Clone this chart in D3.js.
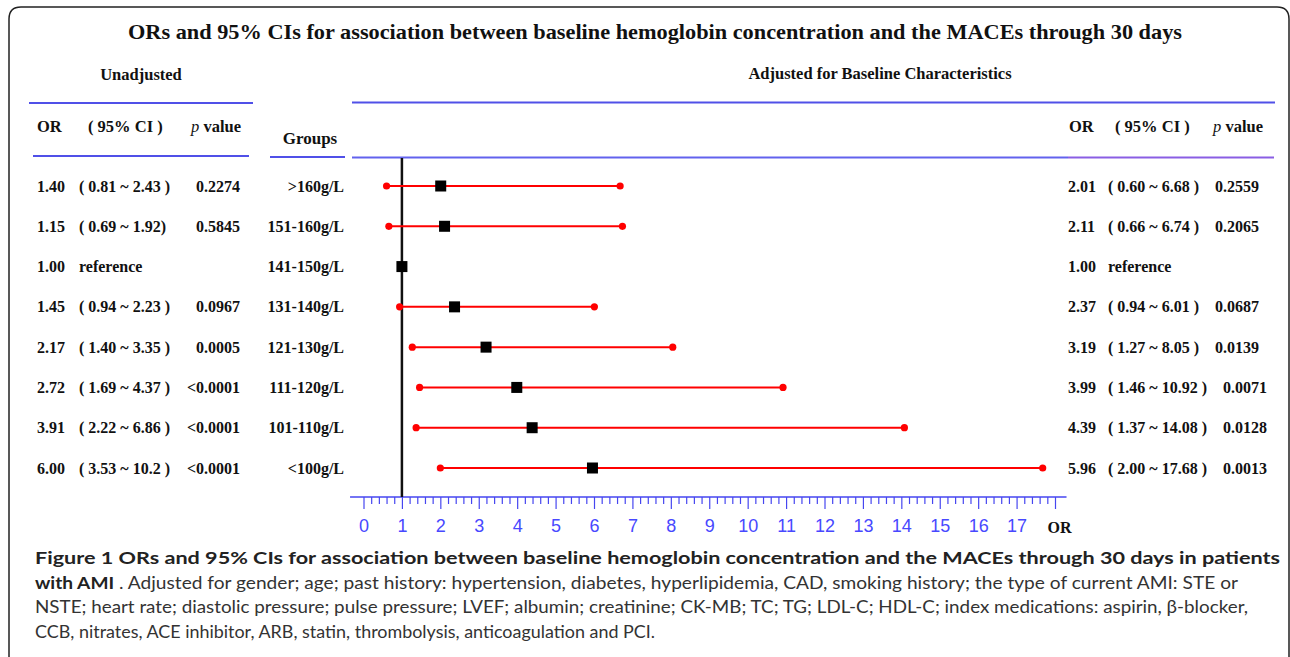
<!DOCTYPE html>
<html><head><meta charset="utf-8">
<script src="https://cdn.jsdelivr.net/npm/d3@7"></script>
<style>html,body{margin:0;padding:0;background:#fff;}svg{display:block;}</style>
</head><body>
<svg id="chart" width="1290" height="657"></svg>
<script>
// ---- data ----
const groups = [">160g/L","151-160g/L","141-150g/L","131-140g/L","121-130g/L","111-120g/L","101-110g/L","<100g/L"];
const adjOR = [2.01,2.11,1.00,2.37,3.19,3.99,4.39,5.96];
const adjLo = [0.60,0.66,null,0.94,1.27,1.46,1.37,2.00];
const adjHi = [6.68,6.74,null,6.01,8.05,10.92,14.08,17.68];
const adjP  = ["0.2559","0.2065","","0.0687","0.0139","0.0071","0.0128","0.0013"];
const unOR  = ["1.40","1.15","1.00","1.45","2.17","2.72","3.91","6.00"];
const unCI  = ["( 0.81 ~ 2.43 )","( 0.69 ~ 1.92)","reference","( 0.94 ~ 2.23 )","( 1.40 ~ 3.35 )","( 1.69 ~ 4.37 )","( 2.22 ~ 6.86 )","( 3.53 ~ 10.2 )"];
const unP   = ["0.2274","0.5845","","0.0967","0.0005","<0.0001","<0.0001","<0.0001"];
const majorTicks = d3.range(0,19,1);
const minorTicks = d3.range(0,90,1).map(i=>i/5).filter(v=>Math.abs(v-Math.round(v))>1e-9);
const titleText = "ORs and 95% CIs for association between baseline hemoglobin concentration and the MACEs through 30 days";

const svg = d3.select("#chart");
const serif = "'Liberation Serif','Times New Roman',serif";
const fmt = d3.format(".2f");

// frame
svg.append("path")
  .attr("d","M9,657 L9,19 Q9,7 21,7 L1277,7 Q1289,7 1289,19 L1289,657")
  .attr("fill","none").attr("stroke","#222").attr("stroke-width",1.5);

// scales
const x = d3.scaleLinear().domain([0,18]).range([363.5,1055]);
const y = d3.scalePoint().domain(groups).range([186,468]);

// title
svg.append("text").attr("x",128).attr("y",39)
  .attr("font-family",serif).attr("font-weight","bold").attr("font-size",21).attr("fill","#111")
  .attr("textLength",1054).attr("lengthAdjust","spacingAndGlyphs")
  .text(titleText);
svg.append("text").attr("x",141).attr("y",80).attr("text-anchor","middle")
  .attr("font-family",serif).attr("font-weight","bold").attr("font-size",16.5).attr("fill","#111").text("Unadjusted");
svg.append("text").attr("x",880).attr("y",79).attr("text-anchor","middle")
  .attr("font-family",serif).attr("font-weight","bold").attr("font-size",16.5).attr("fill","#111").text("Adjusted for Baseline Characteristics");

// header rules
const rules = [
  {x1:29,x2:253,y:103,c:"#5050e8"},{x1:352,x2:1275,y:102.5,c:"#5050e8"},
  {x1:33,x2:249,y:156,c:"#5050e8"},{x1:270,x2:345,y:157,c:"#5050e8"},
  {x1:352,x2:1068,y:157.5,c:"#6262ee"},{x1:1068,x2:1274,y:157.5,c:"#8a5ee4"}
];
svg.selectAll("line.rule").data(rules).join("line").attr("class","rule")
  .attr("x1",d=>d.x1).attr("x2",d=>d.x2).attr("y1",d=>d.y).attr("y2",d=>d.y)
  .attr("stroke",d=>d.c).attr("stroke-width",2);

// column headers
function header(xOR,xCI,xP,yb){
  const g = svg.append("g").attr("font-family",serif).attr("font-weight","bold").attr("font-size",16.5).attr("fill","#111");
  g.append("text").attr("x",xOR).attr("y",yb).text("OR");
  g.append("text").attr("x",xCI).attr("y",yb).text("( 95% CI )");
  const t = g.append("text").attr("x",xP).attr("y",yb);
  t.append("tspan").attr("font-style","italic").attr("font-weight","normal").text("p");
  t.append("tspan").text(" value");
}
header(37,88,191,132);
header(1069,1115,1213,132);
svg.append("text").attr("x",310).attr("y",144).attr("text-anchor","middle")
  .attr("font-family",serif).attr("font-weight","bold").attr("font-size",17).attr("fill","#111").text("Groups");

// left table
const left = svg.append("g").attr("font-family",serif).attr("font-weight","bold").attr("font-size",16).attr("fill","#111");
groups.forEach((gname,i)=>{
  const yb = y(gname)+5.5;
  left.append("text").attr("x",37).attr("y",yb).text(unOR[i]);
  left.append("text").attr("x",79).attr("y",yb).text(unCI[i]);
  left.append("text").attr("x",240).attr("y",yb).attr("text-anchor","end").text(unP[i]);
  left.append("text").attr("x",344).attr("y",yb).attr("text-anchor","end").text(gname);
});

// right table
const right = svg.append("g").attr("font-family",serif).attr("font-weight","bold").attr("font-size",16).attr("fill","#111");
groups.forEach((gname,i)=>{
  const yb = y(gname)+5.5;
  right.append("text").attr("x",1068).attr("y",yb).text(fmt(adjOR[i]));
  const t = right.append("text").attr("x",1108).attr("y",yb);
  if (adjLo[i]===null){ t.text("reference"); }
  else {
    t.append("tspan").text("( "+fmt(adjLo[i])+" ~ "+fmt(adjHi[i])+" )");
    t.append("tspan").attr("dx",16).text(adjP[i]);
  }
});

// axis
const axisY = 497;
svg.append("line").attr("x1",x(-0.35)).attr("x2",x(18.3)).attr("y1",axisY).attr("y2",axisY)
  .attr("stroke","#4646f0").attr("stroke-width",1.5);
const minorAx = d3.axisBottom(x).tickValues(minorTicks).tickSize(7).tickFormat("");
const majorAx = d3.axisBottom(x).tickValues(majorTicks).tickSize(12).tickPadding(10)
  .tickFormat(d=>d===18?"OR":d);
const gMinor = svg.append("g").attr("transform",`translate(0,${axisY})`).call(minorAx);
const gMajor = svg.append("g").attr("transform",`translate(0,${axisY})`).call(majorAx);
[gMinor,gMajor].forEach(g=>{
  g.select(".domain").remove();
  g.selectAll(".tick line").attr("stroke","#4646f0").attr("stroke-width",1.2);
});
gMajor.selectAll(".tick text").attr("font-family","'Liberation Sans',Arial,sans-serif")
  .attr("font-size",18).attr("fill","#4848ff");
gMajor.selectAll(".tick text").filter(d=>d===18)
  .attr("font-family",serif).attr("font-weight","bold").attr("font-size",16).attr("fill","#111")
  .attr("dy","0.85em").attr("dx",4);

// reference line at OR = 1
svg.append("line").attr("x1",x(1)).attr("x2",x(1)).attr("y1",158).attr("y2",axisY)
  .attr("stroke","#111").attr("stroke-width",2.5);

// CI lines and dots
const ciIdx = groups.map((g,i)=>i).filter(i=>adjLo[i]!==null);
svg.selectAll("line.ci").data(ciIdx).join("line").attr("class","ci")
  .attr("x1",i=>x(adjLo[i])).attr("x2",i=>x(adjHi[i]))
  .attr("y1",i=>y(groups[i])).attr("y2",i=>y(groups[i]))
  .attr("stroke","#ff0000").attr("stroke-width",2);
const ends = [];
ciIdx.forEach(i=>{ends.push({v:adjLo[i],g:groups[i]});ends.push({v:adjHi[i],g:groups[i]});});
svg.selectAll("circle.end").data(ends).join("circle").attr("class","end")
  .attr("cx",d=>x(d.v)).attr("cy",d=>y(d.g)).attr("r",3.6).attr("fill","#ff0000");
const sq = 11;
svg.selectAll("rect.pt").data(groups).join("rect").attr("class","pt")
  .attr("x",(g,i)=>x(adjOR[i])-sq/2).attr("y",g=>y(g)-sq/2)
  .attr("width",sq).attr("height",sq).attr("fill","#000");

// caption
const capFont = "Lato,'Open Sans',sans-serif";
const cap = svg.append("g").attr("font-family",capFont).attr("font-size",17.5).attr("fill","#333");
cap.append("text").attr("x",35).attr("y",564).attr("font-weight","bold").attr("fill","#222")
  .attr("textLength",1245).attr("lengthAdjust","spacingAndGlyphs")
  .text("Figure 1 ORs and 95% CIs for association between baseline hemoglobin concentration and the MACEs through 30 days in patients");
const l2 = cap.append("text").attr("x",35).attr("y",589).attr("textLength",1203).attr("lengthAdjust","spacingAndGlyphs");
l2.append("tspan").attr("font-weight","bold").attr("fill","#222").text("with AMI");
l2.append("tspan").text(" . Adjusted for gender; age; past history: hypertension, diabetes, hyperlipidemia, CAD, smoking history; the type of current AMI: STE or");
cap.append("text").attr("x",35).attr("y",613).attr("textLength",1213).attr("lengthAdjust","spacingAndGlyphs")
  .text("NSTE; heart rate; diastolic pressure; pulse pressure; LVEF; albumin; creatinine; CK-MB; TC; TG; LDL-C; HDL-C; index medications: aspirin, β-blocker,");
cap.append("text").attr("x",35).attr("y",638).attr("textLength",620).attr("lengthAdjust","spacingAndGlyphs")
  .text("CCB, nitrates, ACE inhibitor, ARB, statin, thrombolysis, anticoagulation and PCI.");
</script>
</body></html>
